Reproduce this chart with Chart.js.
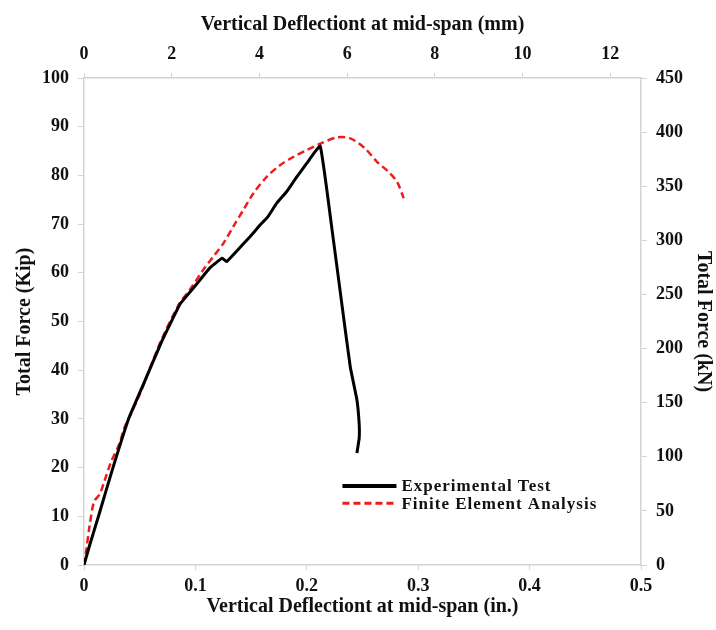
<!DOCTYPE html>
<html>
<head>
<meta charset="utf-8">
<title>Total Force vs Vertical Deflection</title>
<script src="https://cdn.jsdelivr.net/npm/chart.js@4.4.1/dist/chart.umd.min.js"></script>
<style>
    body { margin: 0; background: #fff; }
    #wrap { width: 716px; height: 630px; }
</style>
</head>
<body>
<div id="wrap"><canvas id="chart" width="716" height="630"></canvas></div>
<script>
// Experimental test (deflection in., force kip)
const expX = [0, 0.005, 0.013, 0.026, 0.040, 0.055, 0.070, 0.086, 0.095, 0.104, 0.113, 0.124, 0.128, 0.138,
    0.149, 0.158, 0.165, 0.173, 0.182, 0.191, 0.200, 0.212, 0.222, 0.231, 0.239, 0.245, 0.247, 0.247, 0.245];
const expY = [0, 4, 10, 20, 30, 38, 46, 53.5, 56, 58.5, 61, 63, 62.3, 64.7,
    67.4, 69.8, 71.5, 74.3, 76.7, 79.7, 82.5, 86, 70, 54.4, 40.7, 33.9, 29, 26, 23];

// Finite element analysis
const feaX = [0, 0.002, 0.005, 0.009, 0.014, 0.018, 0.024, 0.032, 0.036, 0.043, 0.050, 0.056, 0.070,
    0.086, 0.095, 0.107, 0.116, 0.125, 0.134, 0.143, 0.152, 0.164, 0.176, 0.188, 0.200, 0.212,
    0.227, 0.239, 0.252, 0.263, 0.273, 0.281, 0.287];
const feaY = [0, 3, 8, 13, 14.5, 17, 21, 25, 28, 31.5, 35, 38.5, 46.5,
    53.8, 56.5, 60.6, 63.3, 66, 69.5, 72.9, 76.3, 79.7, 82.1, 83.8, 85.2, 86.5,
    87.8, 87.6, 85.6, 82.8, 80.8, 78.7, 75.3];

const inchTicks = [0, 0.1, 0.2, 0.3, 0.4, 0.5];
const legendLabels = ['Experimental Test', 'Finite Element Analysis'];

const serif = '"Liberation Serif", "Times New Roman", serif';
const axisGray = '#d4d4d4';

function toPoints(xs, ys) {
    return xs.map((x, i) => ({ x: x, y: ys[i] }));
}

// draws the legend box inside the plot, anchored on the data scales
const innerLegend = {
    id: 'innerLegend',
    afterDatasetsDraw(chart) {
        const ctx = chart.ctx;
        const xs = chart.scales.x, ys = chart.scales.y;
        const x0 = xs.getPixelForValue(0.232);
        const rows = [ys.getPixelForValue(16.2), ys.getPixelForValue(12.7)];
        chart.data.datasets.forEach((ds, i) => {
            ctx.save();
            ctx.strokeStyle = ds.borderColor;
            ctx.lineWidth = i === 0 ? 4 : 3;
            ctx.setLineDash(ds.borderDash || []);
            ctx.beginPath();
            ctx.moveTo(x0, rows[i]);
            ctx.lineTo(x0 + 54, rows[i]);
            ctx.stroke();
            ctx.setLineDash([]);
            ctx.fillStyle = '#111';
            ctx.font = 'bold 17px ' + serif;
            ctx.letterSpacing = '1px';
            ctx.textBaseline = 'middle';
            ctx.fillText(legendLabels[i], x0 + 59, rows[i] + 1);
            ctx.restore();
        });
    }
};

const tickFont = { family: serif, size: 18, weight: 'bold' };
const titleFont = { family: serif, size: 20, weight: 'bold' };

new Chart(document.getElementById('chart'), {
    type: 'scatter',
    data: {
        datasets: [
            {
                label: legendLabels[0],
                data: toPoints(expX, expY),
                showLine: true,
                borderColor: '#000000',
                borderWidth: 3,
                pointRadius: 0,
                tension: 0.1,
                xAxisID: 'x',
                yAxisID: 'y'
            },
            {
                label: legendLabels[1],
                data: toPoints(feaX, feaY),
                showLine: true,
                borderColor: '#ee1c1c',
                borderWidth: 2.5,
                borderDash: [7, 4],
                pointRadius: 0,
                tension: 0.3,
                xAxisID: 'x',
                yAxisID: 'y'
            }
        ]
    },
    options: {
        responsive: false,
        animation: false,
        layout: { padding: 0 },
        plugins: {
            legend: { display: false },
            tooltip: { enabled: false }
        },
        scales: {
            x: {
                type: 'linear',
                position: 'bottom',
                min: 0,
                max: 0.5,
                afterBuildTicks: (s) => { s.ticks = inchTicks.map(v => ({ value: v })); },
                afterFit: (s) => { s.height = 65; },
                border: { color: axisGray, width: 1.5 },
                grid: { drawOnChartArea: false, color: axisGray, tickLength: 5 },
                ticks: { font: tickFont, color: '#111', padding: 6, callback: v => String(v) },
                title: { display: true, text: 'Vertical Deflectiont at mid-span (in.)', font: titleFont, color: '#111', padding: { bottom: 11 } }
            },
            x2: {
                type: 'linear',
                position: 'top',
                min: 0,
                max: 12.7,
                afterFit: (s) => { s.height = 78; },
                border: { color: axisGray, width: 1.5 },
                grid: { drawOnChartArea: false, color: axisGray, tickLength: 5 },
                ticks: { stepSize: 2, includeBounds: false, font: tickFont, color: '#111', padding: 8 },
                title: { display: true, text: 'Vertical Deflectiont at mid-span (mm)', font: titleFont, color: '#111', padding: { top: 13 } }
            },
            y: {
                type: 'linear',
                position: 'left',
                min: 0,
                max: 100,
                afterFit: (s) => { s.width = 84; },
                border: { color: axisGray, width: 1.5 },
                grid: { drawOnChartArea: false, color: axisGray, tickLength: 6 },
                ticks: { stepSize: 10, font: tickFont, color: '#111', padding: 9 },
                title: { display: true, text: 'Total Force (Kip)', font: titleFont, color: '#111', padding: { top: 13 } }
            },
            y2: {
                type: 'linear',
                position: 'right',
                min: 0,
                max: 450,
                afterFit: (s) => { s.width = 75; },
                border: { color: axisGray, width: 1.5 },
                grid: { drawOnChartArea: false, color: axisGray, tickLength: 6 },
                ticks: { stepSize: 50, font: tickFont, color: '#111', padding: 9 },
                title: { display: true, text: 'Total Force (kN)', font: titleFont, color: '#111', padding: { top: 1 } }
            }
        }
    },
    plugins: [innerLegend]
});
</script>
</body>
</html>
